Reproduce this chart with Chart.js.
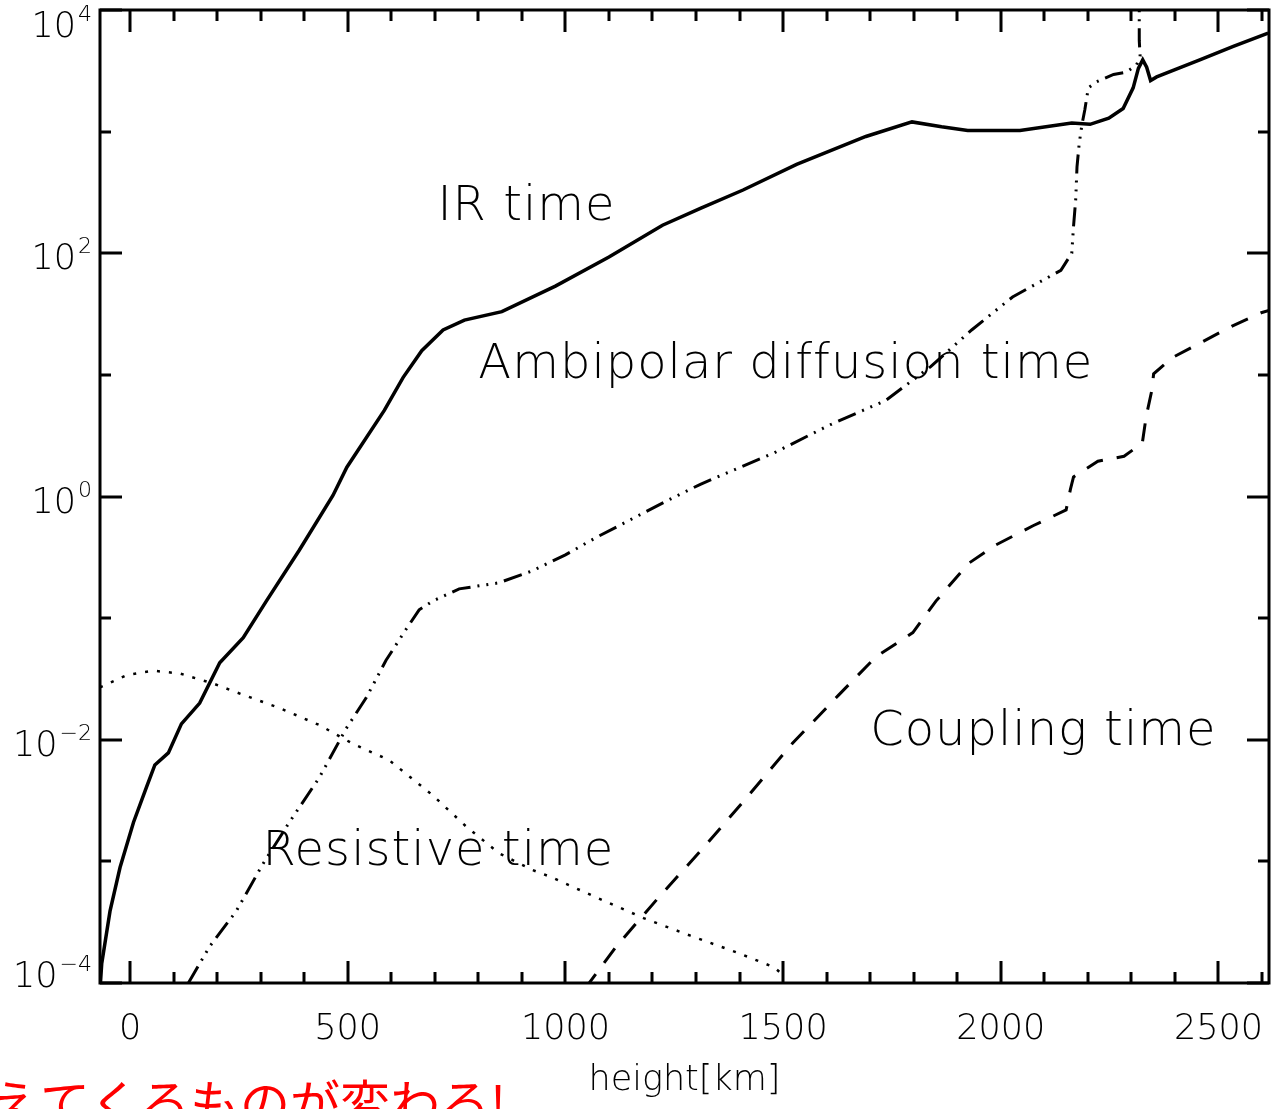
<!DOCTYPE html>
<html>
<head>
<meta charset="utf-8">
<script src="https://cdn.jsdelivr.net/npm/chart.js@4.4.1/dist/chart.umd.min.js"></script>
<style>
	html, body { margin: 0; padding: 0; background: #fff; }
	#wrap { width: 1281px; height: 1109px; overflow: hidden; }
</style>
</head>
<body>
<div id="wrap"><canvas id="timeChart" width="1281" height="1109"></canvas></div>
<script>
// heights in km, times
const irHeight = [-68, -65, -46, -23, 8, 38, 57, 88, 118, 160, 206, 260, 313, 389, 466, 498, 584, 627, 670, 719, 768, 854, 977, 1100, 1223, 1310, 1408, 1531, 1690, 1796, 1864, 1924, 2044, 2163, 2205, 2248, 2281, 2304, 2316, 2326, 2335, 2344, 2358, 2457, 2534, 2614];
const irTime = [1.0e-4, 1.45e-4, 3.9e-4, 8.9e-4, 2.1e-3, 4.1e-3, 6.2e-3, 7.8e-3, 1.35e-2, 2.0e-2, 4.3e-2, 6.9e-2, 0.138, 0.363, 1.02, 1.74, 5.1, 9.5, 15.8, 23.4, 28.2, 33.1, 53.7, 93.3, 170, 234, 331, 537, 912, 1202, 1096, 1023, 1023, 1175, 1148, 1288, 1549, 2291, 3311, 3890, 3388, 2630, 2818, 3890, 5012, 6457];

const ambHeight = [134, 183, 244, 305, 366, 435, 496, 542, 588, 634, 664, 695, 756, 847, 924, 1000, 1069, 1236, 1310, 1480, 1608, 1736, 1839, 1933, 2027, 2138, 2163, 2167, 2172, 2175, 2180, 2186, 2193, 2201, 2220, 2259, 2289, 2312, 2320, 2318, 2318];
const ambTime = [1.0e-4, 2.0e-4, 3.9e-4, 9.5e-4, 2.1e-3, 4.9e-3, 1.23e-2, 2.2e-2, 4.5e-2, 8.1e-2, 0.117, 0.138, 0.174, 0.195, 0.245, 0.331, 0.457, 0.933, 1.26, 2.29, 3.89, 6.17, 11.7, 23.4, 43.7, 72.4, 100, 166, 275, 513, 794, 1122, 1514, 2291, 2570, 2951, 3090, 3548, 4169, 5623, 11220];

const cplHeight = [1045, 1117, 1213, 1319, 1415, 1521, 1628, 1713, 1798, 1851, 1926, 1989, 2074, 2150, 2160, 2167, 2223, 2283, 2325, 2334, 2347, 2351, 2393, 2462, 2530, 2598, 2616];
const cplTime = [9.0e-5, 2.0e-4, 5.0e-4, 1.32e-3, 3.3e-3, 9.3e-3, 2.34e-2, 4.8e-2, 7.6e-2, 0.138, 0.282, 0.40, 0.575, 0.776, 1.15, 1.45, 1.95, 2.14, 2.75, 4.57, 7.5, 10.2, 13.8, 18.6, 25.1, 32.4, 33.9];

const resHeight = [-69, -8, 53, 115, 191, 260, 344, 435, 511, 595, 695, 771, 847, 924, 968, 1074, 1181, 1287, 1394, 1479, 1505];
const resTime = [2.7e-2, 3.4e-2, 3.7e-2, 3.5e-2, 2.9e-2, 2.34e-2, 1.82e-2, 1.32e-2, 9.3e-3, 6.8e-3, 3.5e-3, 1.95e-3, 1.17e-3, 8.5e-4, 7.4e-4, 5.0e-4, 3.4e-4, 2.45e-4, 1.78e-4, 1.35e-4, 1.12e-4];

const xLabelTicks = [0, 500, 1000, 1500, 2000, 2500];
const xMinorTicks = [0, 100, 200, 300, 400, 500, 600, 700, 800, 900, 1000, 1100, 1200, 1300, 1400, 1500, 1600, 1700, 1800, 1900, 2000, 2100, 2200, 2300, 2400, 2500, 2600];
const yTickValues = [1e-4, 1e-3, 1e-2, 1e-1, 1, 10, 100, 1000, 1e4];
const yLabelValues = [1e-4, 1e-2, 1, 100, 1e4];
const yLabelExps = ['\u22124', '\u22122', '0', '2', '4'];

const curveNames = ['IR time', 'Ambipolar diffusion time', 'Coupling time', 'Resistive time'];
const curveLabelAt = [[706, 187], [800, 9.4], [1700, 9.0e-3], [304, 9.3e-4]];
const bannerText = '見えてくるものが変わる!';

const thinFont = '"DejaVu Sans", "Liberation Sans", sans-serif';

const toPoints = (xs, ys) => xs.map((x, i) => ({ x, y: ys[i] }));

const idlFrame = {
	id: 'idlFrame',
	afterDatasetsDraw(chart) {
		const { ctx, chartArea: a, scales: { x, y } } = chart;
		ctx.save();
		ctx.strokeStyle = '#000';
		ctx.lineWidth = 3;
		ctx.lineCap = 'butt';
		ctx.strokeRect(a.left, a.top, a.right - a.left, a.bottom - a.top);

		ctx.beginPath();
		xMinorTicks.forEach(v => {
			const px = Math.round(x.getPixelForValue(v));
			const len = v % 500 === 0 ? 22 : 11;
			ctx.moveTo(px, a.bottom);
			ctx.lineTo(px, a.bottom - len);
			ctx.moveTo(px, a.top);
			ctx.lineTo(px, a.top + len);
		});
		yTickValues.forEach((v, i) => {
			const py = Math.round(y.getPixelForValue(v));
			const len = i % 2 === 0 ? 22 : 11;
			ctx.moveTo(a.left, py);
			ctx.lineTo(a.left + len, py);
			ctx.moveTo(a.right, py);
			ctx.lineTo(a.right - len, py);
		});
		ctx.stroke();

		// y labels: 10 with superscript exponent
		ctx.fillStyle = '#000';
		ctx.textBaseline = 'alphabetic';
		yLabelValues.forEach((v, i) => {
			const py = y.getPixelForValue(v);
			let base = py + 16;
			if (i === 0) base = py + 4;
			if (i === yLabelValues.length - 1) base = py + 27;
			ctx.font = '200 22px ' + thinFont;
			const ew = ctx.measureText(yLabelExps[i]).width;
			const ex = 92 - ew;
			ctx.textAlign = 'left';
			ctx.fillText(yLabelExps[i], ex, base - 16);
			ctx.font = '200 35px ' + thinFont;
			ctx.textAlign = 'right';
			ctx.fillText('10', ex - 2, base);
		});

		// curve names
		ctx.font = '200 48px ' + thinFont;
		ctx.letterSpacing = '1px';
		ctx.textAlign = 'left';
		curveNames.forEach((t, i) => {
			const [hx, hy] = curveLabelAt[i];
			ctx.fillText(t, x.getPixelForValue(hx), y.getPixelForValue(hy));
		});
		ctx.letterSpacing = '0px';

		// red banner, cut by the bottom of the page
		ctx.fillStyle = '#ff0000';
		ctx.font = '50px "Noto Sans CJK JP", sans-serif';
		ctx.fillText(bannerText, -60, 1122);
		ctx.restore();
	}
};

document.addEventListener('DOMContentLoaded', () => {
	const canvas = document.getElementById('timeChart');
	const ctx = canvas.getContext('2d');

	new Chart(ctx, {
		type: 'line',
		data: {
			datasets: [
				{
					label: curveNames[0],
					data: toPoints(irHeight, irTime),
					borderColor: '#000',
					borderWidth: 3.5,
					pointRadius: 0,
					tension: 0,
					fill: false,
					clip: 0
				},
				{
					label: curveNames[1],
					data: toPoints(ambHeight, ambTime),
					borderColor: '#000',
					borderWidth: 3,
					borderDash: [19, 7, 2, 7, 2, 7, 2, 7],
					pointRadius: 0,
					tension: 0,
					fill: false,
					clip: 0
				},
				{
					label: curveNames[2],
					data: toPoints(cplHeight, cplTime),
					borderColor: '#000',
					borderWidth: 3,
					borderDash: [18, 14],
					pointRadius: 0,
					tension: 0,
					fill: false,
					clip: 0
				},
				{
					label: curveNames[3],
					data: toPoints(resHeight, resTime),
					borderColor: '#000',
					borderWidth: 2.5,
					borderDash: [3, 9],
					pointRadius: 0,
					tension: 0,
					fill: false,
					clip: 0
				}
			]
		},
		options: {
			responsive: false,
			animation: false,
			devicePixelRatio: 1,
			layout: { autoPadding: false, padding: { top: 10, right: 12, left: 0, bottom: 0 } },
			plugins: {
				legend: { display: false },
				tooltip: { enabled: false }
			},
			scales: {
				x: {
					type: 'linear',
					min: -69,
					max: 2616,
					afterBuildTicks: scale => {
						scale.ticks = xLabelTicks.map(v => ({ value: v }));
					},
					afterFit: scale => {
						scale.height = 126;
						scale.paddingLeft = 0;
						scale.paddingRight = 0;
					},
					grid: { display: false, drawTicks: false },
					border: { display: false },
					ticks: {
						padding: 26,
						color: '#000',
						maxRotation: 0,
						autoSkip: false,
						callback: v => String(v),
						font: { family: thinFont, size: 35, weight: 200 }
					},
					title: {
						display: true,
						text: 'height[km]',
						color: '#000',
						padding: { top: 0, bottom: 7 },
						font: { family: thinFont, size: 35, weight: 200 }
					}
				},
				y: {
					type: 'logarithmic',
					min: 1e-4,
					max: 1e4,
					afterBuildTicks: scale => {
						scale.ticks = yTickValues.map(v => ({ value: v }));
					},
					afterFit: scale => {
						scale.width = 100;
						scale.paddingTop = 0;
						scale.paddingBottom = 0;
					},
					grid: { display: false, drawTicks: false },
					border: { display: false },
					ticks: { display: false }
				}
			}
		},
		plugins: [idlFrame]
	});
});
</script>
</body>
</html>
